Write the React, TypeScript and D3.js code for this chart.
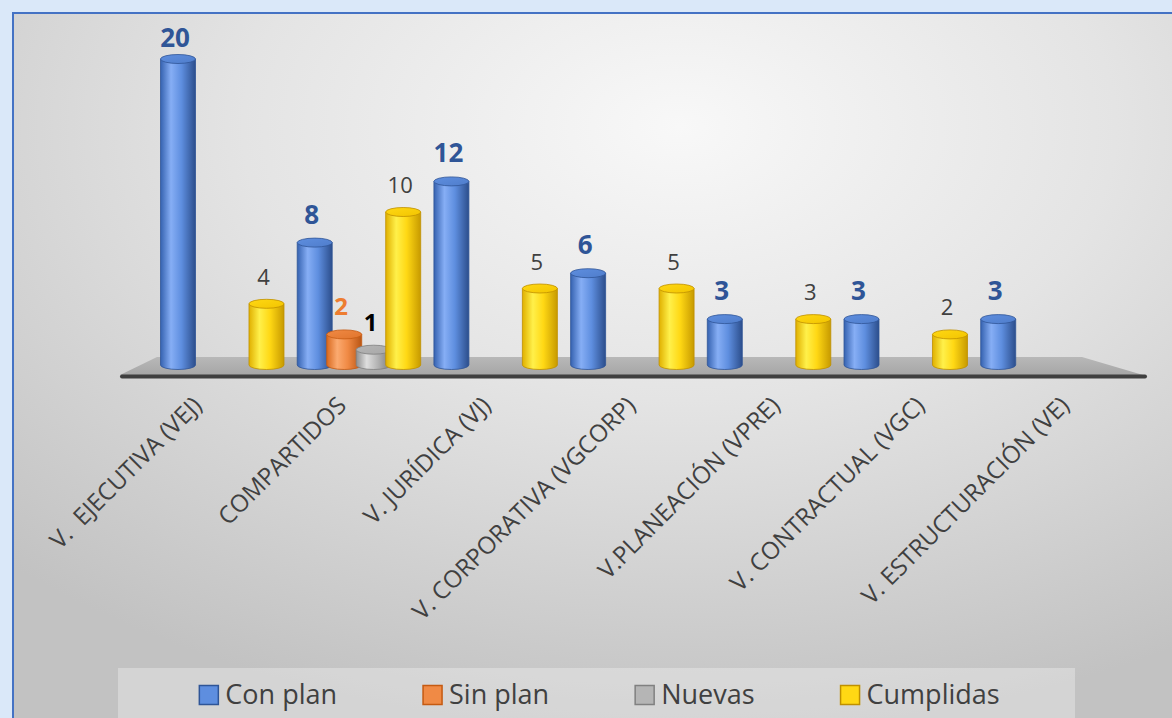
import React, { useEffect, useRef } from "react";
import * as d3 from "d3";

const categories = [
  "V.  EJECUTIVA (VEJ)",
  "COMPARTIDOS",
  "V. JURÍDICA (VJ)",
  "V. CORPORATIVA (VGCORP)",
  "V.PLANEACIÓN (VPRE)",
  "V. CONTRACTUAL (VGC)",
  "V. ESTRUCTURACIÓN (VE)",
];
const seriesNames = ["Con plan", "Sin plan", "Nuevas", "Cumplidas"];
const conPlan = [20, 8, 12, 6, 3, 3, 3];
const sinPlan = [0, 2, 0, 0, 0, 0, 0];
const nuevas = [0, 1, 0, 0, 0, 0, 0];
const cumplidas = [4, 10, 5, 5, 3, 2, 0];

const W = 1172;
const H = 718;

const palette: Record<string, { dark: string; light: string; mid: string; edge: string; stroke: string; top: string }> = {
  "Con plan": { dark: "#3562B0", light: "#86AEF5", mid: "#5E8EDF", edge: "#2C4E8C", stroke: "#2F5597", top: "#4F7DCB" },
  "Sin plan": { dark: "#D9691F", light: "#FBAA70", mid: "#F08A45", edge: "#B95513", stroke: "#C55A11", top: "#E0742C" },
  Nuevas: { dark: "#8E8E8E", light: "#DEDEDE", mid: "#B5B5B5", edge: "#7A7A7A", stroke: "#808080", top: "#A8A8A8" },
  Cumplidas: { dark: "#E0B000", light: "#FFF04A", mid: "#FFD814", edge: "#C79A00", stroke: "#BF9000", top: "#F2C400" },
};

const labelStyle: Record<string, { size: number; weight: string; color: string }> = {
  "Con plan": { size: 26, weight: "bold", color: "#2F5597" },
  "Sin plan": { size: 24, weight: "bold", color: "#ED7D31" },
  Nuevas: { size: 24, weight: "bold", color: "#000000" },
  Cumplidas: { size: 22, weight: "normal", color: "#404040" },
};

export default function App() {
  const ref = useRef<SVGSVGElement | null>(null);

  useEffect(() => {
    const svg = d3.select(ref.current);
    svg.selectAll("*").remove();
    const font = "'Open Sans', 'Noto Sans', sans-serif";
    const seriesData: number[][] = [conPlan, sinPlan, nuevas, cumplidas];

    const defs = svg.append("defs");
    const bg = defs
      .append("radialGradient")
      .attr("id", "bgGrad")
      .attr("cx", 0.55)
      .attr("cy", 0.15)
      .attr("r", 0.8);
    bg.append("stop").attr("offset", "0").attr("stop-color", "#F8F8F8");
    bg.append("stop").attr("offset", "0.45").attr("stop-color", "#E4E4E4");
    bg.append("stop").attr("offset", "1").attr("stop-color", "#C2C2C2");

    seriesNames.forEach((s, i) => {
      const p = palette[s];
      const g = defs.append("linearGradient").attr("id", `cyl${i}`).attr("x1", 0).attr("x2", 1).attr("y1", 0).attr("y2", 0);
      g.append("stop").attr("offset", "0").attr("stop-color", p.dark);
      g.append("stop").attr("offset", "0.3").attr("stop-color", p.light);
      g.append("stop").attr("offset", "0.6").attr("stop-color", p.mid);
      g.append("stop").attr("offset", "1").attr("stop-color", p.edge);
      const t = defs.append("linearGradient").attr("id", `top${i}`).attr("x1", 0).attr("x2", 1).attr("y1", 0).attr("y2", 1);
      t.append("stop").attr("offset", "0").attr("stop-color", p.mid);
      t.append("stop").attr("offset", "1").attr("stop-color", p.top);
    });
    const fg = defs.append("linearGradient").attr("id", "floorGrad").attr("x1", 0).attr("x2", 0).attr("y1", 0).attr("y2", 1);
    fg.append("stop").attr("offset", "0").attr("stop-color", "#B8B8B8");
    fg.append("stop").attr("offset", "1").attr("stop-color", "#A6A6A6");

    // page background
    svg.append("rect").attr("x", 0).attr("y", 0).attr("width", W).attr("height", H).attr("fill", "#DAE8F9");
    // chart area
    svg
      .append("rect")
      .attr("x", 13)
      .attr("y", 13)
      .attr("width", W + 40)
      .attr("height", H + 40)
      .attr("fill", "url(#bgGrad)")
      .attr("stroke", "#4472C4")
      .attr("stroke-width", 2);

    // scales
    const x = d3.scaleBand<string>().domain(categories).range([153.9, 1110.8]).paddingInner(0.137).paddingOuter(0.0685);
    const xs = d3.scaleBand<string>().domain(seriesNames).range([0, x.bandwidth()]).padding(0);
    const xFront = d3.scaleBand<string>().domain(categories).range([126, 1138]);
    const y = d3.scaleLinear().domain([0, 20]).range([365, 59]);

    // floor
    const floorTop = 357;
    const floorBot = 375;
    svg
      .append("path")
      .attr("d", `M157,${floorTop} L1082,${floorTop} L1143,${floorBot} L120,${floorBot} Z`)
      .attr("fill", "url(#floorGrad)");
    svg
      .append("line")
      .attr("x1", 122)
      .attr("x2", 1145)
      .attr("y1", floorBot + 1.5)
      .attr("y2", floorBot + 1.5)
      .attr("stroke", "#3F3F3F")
      .attr("stroke-width", 4)
      .attr("stroke-linecap", "round");

    // bars
    const bw = 35;
    const rx = bw / 2;
    const ry = 4.5;
    const barsG = svg.append("g");
    categories.forEach((c, ci) => {
      seriesNames.forEach((s, si) => {
        const v = seriesData[si][ci];
        if (!v) return;
        const cx = (x(c) as number) + (xs(s) as number) + xs.bandwidth() / 2;
        const yb = y(0);
        const yt = y(v);
        const xl = cx - rx;
        const xr = cx + rx;
        const p = palette[s];
        barsG
          .append("path")
          .attr("d", `M${xl},${yt} L${xl},${yb} A${rx},${ry} 0 0 0 ${xr},${yb} L${xr},${yt} Z`)
          .attr("fill", `url(#cyl${si})`)
          .attr("stroke", p.stroke)
          .attr("stroke-width", 1)
          .attr("stroke-opacity", 0.8);
        barsG
          .append("ellipse")
          .attr("cx", cx)
          .attr("cy", yt)
          .attr("rx", rx)
          .attr("ry", ry)
          .attr("fill", `url(#top${si})`)
          .attr("stroke", p.stroke)
          .attr("stroke-width", 1)
          .attr("stroke-opacity", 0.8);
      });
    });

    // data labels
    const labG = svg.append("g").attr("font-family", font);
    categories.forEach((c, ci) => {
      seriesNames.forEach((s, si) => {
        const v = seriesData[si][ci];
        if (!v) return;
        const cx = (x(c) as number) + (xs(s) as number) + xs.bandwidth() / 2;
        const st = labelStyle[s];
        labG
          .append("text")
          .attr("x", cx - 3)
          .attr("y", Math.max(y(v) - 19, 47))
          .attr("text-anchor", "middle")
          .attr("font-size", st.size)
          .attr("font-weight", st.weight)
          .attr("fill", st.color)
          .text(String(v));
      });
    });

    // category labels
    const catG = svg.append("g").attr("font-family", font);
    categories.forEach((c) => {
      const cx = (xFront(c) as number) + xFront.bandwidth() / 2;
      catG
        .append("text")
        .attr("transform", `translate(${cx - 1},${401}) rotate(-45)`)
        .attr("text-anchor", "end")
        .attr("dy", "0.35em")
        .attr("font-size", 24)
        .attr("fill", "#404040")
        .style("white-space", "pre")
        .text(c);
    });

    // legend
    const lgBox = { x: 118, y: 668, w: 957, h: 60 };
    svg
      .append("rect")
      .attr("x", lgBox.x)
      .attr("y", lgBox.y)
      .attr("width", lgBox.w)
      .attr("height", lgBox.h)
      .attr("fill", "#FFFFFF")
      .attr("fill-opacity", 0.3);
    const lg = svg.append("g").attr("font-family", font);
    const sq = 19;
    const gapText = 7;
    const gapItem = 86;
    const items = seriesNames.map((s) => {
      const g = lg.append("g");
      const p = palette[s];
      g.append("rect")
        .attr("x", 0)
        .attr("y", -sq / 2)
        .attr("width", sq)
        .attr("height", sq)
        .attr("fill", p.mid)
        .attr("stroke", p.stroke)
        .attr("stroke-width", 1.5);
      const t = g
        .append("text")
        .attr("x", sq + gapText)
        .attr("y", 0)
        .attr("dy", "0.35em")
        .attr("font-size", 27)
        .attr("fill", "#404040")
        .text(s);
      const tw = (t.node() as SVGTextElement).getComputedTextLength();
      return { g, w: sq + gapText + tw };
    });
    const total = items.reduce((a, b) => a + b.w, 0) + gapItem * (items.length - 1);
    let cxp = lgBox.x + lgBox.w / 2 - total / 2 + 3;
    items.forEach((it) => {
      it.g.attr("transform", `translate(${cxp},${695})`);
      cxp += it.w + gapItem;
    });
  }, []);

  return (
    <svg
      ref={ref}
      width={W}
      height={H}
      style={{ position: "absolute", left: 0, top: 0, display: "block" }}
    />
  );
}
